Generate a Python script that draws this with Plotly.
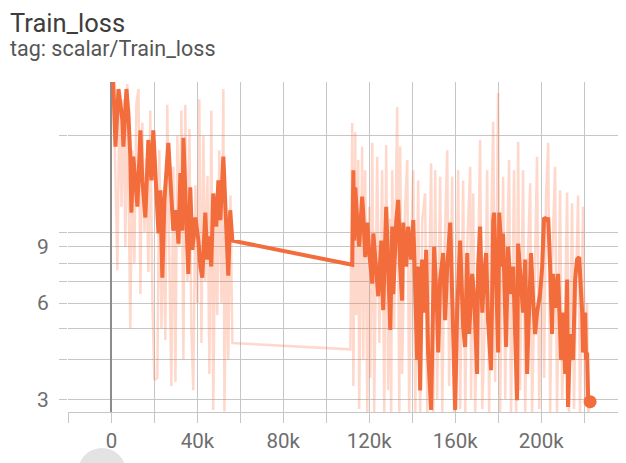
import plotly.graph_objects as go

# ---- data (step, loss) ----
step_smooth = [500, 900, 1900, 3300, 5100, 5600, 7000, 7900, 8800, 9300, 10200, 12100, 13500, 14400,
               15800, 17200, 18600, 19500, 20900, 21900, 22800, 23700, 24700, 26500, 27900, 28800,
               30200, 31200, 32100, 33000, 33500, 34900, 35800, 36700, 37700, 39100, 40500, 41400,
               42300, 43700, 44600, 45600, 46500, 47400, 48800, 49800, 50700, 52100, 53500, 54400,
               55300, 56300,
               112100, 112600, 113000, 113500, 114400, 115300, 116700, 117200, 118100, 119100, 120000,
               121400, 121900, 123300, 124200, 125600, 126500, 127900, 128800, 129800, 130700, 131200,
               132600, 133500, 134400, 135300, 135800, 137200, 138100, 139500, 140500, 141400, 142300,
               142800, 143700, 144600, 145600, 146500, 147400, 148800, 149800, 150200, 151600, 152100,
               153000, 154400, 155300, 156300, 157700, 158600, 159100, 160000, 160900, 162300, 163700,
               164600, 165600, 166500, 167900, 168800, 170200, 170700, 171600, 172600, 173500, 174400,
               175300, 176700, 177700, 178100, 179100, 180000, 180500, 181900, 182300, 183700, 184600,
               186000, 187000, 187900, 188800, 189300, 190700, 191600, 192600, 193500, 194000, 195300,
               196300, 197200, 198100, 199500, 200500, 201400, 202800, 203300, 204200, 205100, 205600,
               207000, 207900, 209300, 210200, 211200, 212100, 212500, 213500, 214900, 215800, 216700,
               217700, 219100, 219500, 220500, 220900, 221400, 221900, 222800]
loss_smooth = [31, 29, 18.5, 28, 22.4, 18.5, 28, 23.5, 17.2, 11.5, 17.2, 12.0, 20.8, 14.5,
               11.1, 19.4, 14.5, 20.8, 13.5, 9.9, 13.5, 7.2, 12.6, 19.0, 12.9, 10.1,
               11.7, 9.2, 15.3, 10.1, 19.7, 11.5, 7.4, 13.8, 8.8, 11.1, 9.4, 7.8,
               7.2, 11.5, 8.2, 9.7, 7.8, 13.2, 10.4, 14.5, 10.9, 17.2, 10.1, 7.3,
               11.7, 9.4,
               7.9, 15.6, 9.4, 13.8, 10.9, 9.0, 12.9, 11.5, 8.35, 10.7, 8.6,
               6.9, 9.9, 7.8, 6.3, 9.4, 5.7, 12.0, 7.1, 4.94, 10.4, 6.4,
               10.9, 12.6, 7.8, 6.1, 10.7, 7.8, 10.4, 8.2, 10.9, 6.1, 3.98,
               7.8, 3.2, 8.2, 5.6, 8.8, 4.2, 2.78, 7.8, 9.0, 5.6, 4.2,
               7.1, 8.6, 5.3, 7.8, 10.7, 6.1, 3.7, 2.78, 5.6, 9.4, 5.05,
               4.37, 8.6, 4.8, 7.4, 6.4, 3.6, 7.8, 10.4, 5.6, 7.4, 8.6,
               5.3, 3.7, 10.9, 11.5, 7.1, 4.2, 11.5, 7.8, 9.9, 4.37, 9.0,
               6.4, 7.8, 4.8, 2.98, 9.2, 6.7, 5.6, 8.2, 3.6, 4.8, 8.6,
               6.1, 4.8, 5.6, 6.4, 7.8, 11.1, 10.9, 11.1, 7.8, 4.8, 7.4,
               5.8, 7.4, 3.98, 5.6, 3.6, 7.1, 2.84, 4.8, 3.98, 7.1, 8.2,
               8.35, 5.6, 4.2, 5.6, 3.98, 4.2, 2.98, 2.95]

step_raw = [900, 1900, 2800, 3700, 4700, 5600, 6500, 7400, 8800, 9800, 10700, 11600, 12600, 13500,
            14400, 15400, 16300, 17200, 18100, 19100, 20000, 21400, 22300, 23300, 24200, 25100,
            26000, 27000, 27900, 28800, 29800, 30700, 31600, 32600, 33500, 34400, 35400, 36300,
            37200, 38100, 39100, 40000, 40900, 41900, 42800, 43700, 44700, 45600, 46500, 47400,
            48400, 49300, 50200, 51200, 52100, 52600, 53500, 54400, 55400, 56300,
            111200, 112100, 112600, 113500, 114000, 114900, 115300, 116700, 117200, 118100, 119100,
            120000, 120500, 121400, 122300, 123700, 124700, 126000, 127000, 127900, 128800, 129800,
            130200, 130700, 131600, 133000, 134000, 134400, 135300, 136700, 137700, 138600, 139500,
            140500, 141400, 142800, 143700, 144700, 146000, 147000, 147900, 148800, 149800, 150700,
            151600, 153000, 154000, 154900, 156300, 157200, 158600, 159500, 160500, 161400, 162300,
            163700, 164700, 165600, 167000, 167400, 168400, 169300, 170700, 171600, 172600, 174000,
            174900, 175800, 176700, 177700, 178600, 180000, 180900, 182300, 183300, 184200, 185100,
            186000, 187400, 188400, 189300, 190200, 191600, 192600, 193500, 194900, 195800, 197200,
            198100, 199100, 200500, 201400, 202300, 203300, 204200, 205100, 206500, 207400, 208800,
            209800, 211200, 212100, 213000, 214400, 215300, 216300, 217200, 218100, 219500, 220500,
            221400, 221900, 222800]
loss_raw = [30, 16, 7.6, 27, 12, 26, 9.0, 29, 5.0, 18, 8, 25, 28, 6.4,
            22, 10, 17, 7.5, 24, 6, 3.45, 3.5, 18, 5, 12, 4.6,
            25, 8, 3.3, 16, 3.4, 20, 9, 24, 4.0, 25, 7, 21,
            5, 3.2, 14, 6, 26, 4.5, 20, 7, 15, 3.6, 24, 2.78,
            12, 5.5, 18, 6, 28, 2.75, 9, 4.0, 13, 4.5,
            4.3, 21.9, 3.3, 20.5, 5.5, 16.8, 2.8, 18.5, 4.0, 15.6, 2.7,
            12, 3.5, 19.0, 2.7, 17.2, 4.5, 15.6, 2.7, 18.7, 3.2, 11,
            2.7, 15.6, 5, 24.6, 2.7, 18.5, 3.6, 12, 16.8, 2.7, 9,
            15.6, 2.7, 14.5, 2.6, 11, 13.2, 2.7, 6, 16.4, 2.7, 15.6,
            3.0, 14.9, 2.7, 8, 18.0, 3.3, 14.9, 2.6, 6, 15.6, 2.8,
            14.5, 2.7, 9, 16.0, 3.0, 13.2, 2.7, 8, 19.4, 2.8, 6,
            15.6, 2.7, 10, 22.1, 3.4, 27.2, 2.7, 14.9, 3.0, 9, 16.8,
            2.7, 15.6, 2.6, 19.1, 3.2, 15.6, 2.7, 7, 14.2, 2.7, 9,
            17.2, 2.8, 10, 3.5, 13, 19.0, 2.7, 8, 16.0, 2.7, 13.5,
            3.0, 6, 13.3, 2.6, 12.3, 2.8, 7, 13.0, 2.7, 12.0, 3.0,
            6, 2.7, 2.95]

x_tickvals = [-20000, 0, 20000, 40000, 60000, 80000, 100000, 120000, 140000, 160000, 180000, 200000, 220000]
x_ticktext = ["", "0", "", "40k", "", "80k", "", "120k", "", "160k", "", "200k", ""]
y_tickvals = [3, 4, 5, 6, 7, 8, 9, 10, 20]
y_ticktext = ["3", "", "", "6", "", "", "9", "", ""]

ORANGE = "#f36c3c"
GRID = "#c6c6c6"

fig = go.Figure()
fig.add_trace(go.Scatter(x=step_raw, y=loss_raw, mode="lines",
                         line=dict(color="rgba(255,112,67,0.27)", width=2.5),
                         hoverinfo="skip", showlegend=False))
fig.add_trace(go.Scatter(x=step_smooth, y=loss_smooth, mode="lines",
                         line=dict(color=ORANGE, width=4),
                         showlegend=False))
fig.add_trace(go.Scatter(x=[step_smooth[-1]], y=[loss_smooth[-1]], mode="markers",
                         marker=dict(color=ORANGE, size=13), showlegend=False))

fig.update_layout(
    width=618, height=455,
    margin=dict(l=60, r=0, t=74, b=51, pad=0),
    paper_bgcolor="white", plot_bgcolor="white",
    font=dict(family="Roboto", color="#6e6e6e"),
    xaxis=dict(range=[-20200, 239500], tickvals=x_tickvals, ticktext=x_ticktext,
               showgrid=True, gridcolor=GRID, gridwidth=1.2,
               ticks="outside", ticklen=10, tickcolor=GRID, tickwidth=1.2,
               showline=True, linecolor=GRID, linewidth=1.2,
               zeroline=True, zerolinecolor="#8c8c8c", zerolinewidth=2,
               tickfont=dict(size=20.5, color="#6e6e6e")),
    yaxis=dict(type="log", range=[0.4375, 1.469], tickvals=y_tickvals, ticktext=y_ticktext,
               showgrid=True, gridcolor=GRID, gridwidth=1.2,
               ticks="outside", ticklen=8, tickcolor=GRID, tickwidth=1.2,
               ticklabelstandoff=6, zeroline=False,
               tickfont=dict(size=21, color="#6e6e6e")),
    annotations=[
        dict(text="Train_loss", xref="paper", yref="paper", x=-0.108, y=1.179,
             xanchor="left", yanchor="middle", showarrow=False,
             font=dict(family="Roboto", size=25.5, color="#3d3d3d")),
        dict(text="tag: scalar/Train_loss", xref="paper", yref="paper", x=-0.108, y=1.10,
             xanchor="left", yanchor="middle", showarrow=False,
             font=dict(family="Roboto", size=21.5, color="#555555")),
    ],
    shapes=[dict(type="circle", xref="paper", yref="paper", x0=0.0179, x1=0.1039,
                 y0=-0.2545, y1=-0.109, fillcolor="#e3e3e3", line=dict(width=0), layer="above")],
)

fig.write_html("out.html")
